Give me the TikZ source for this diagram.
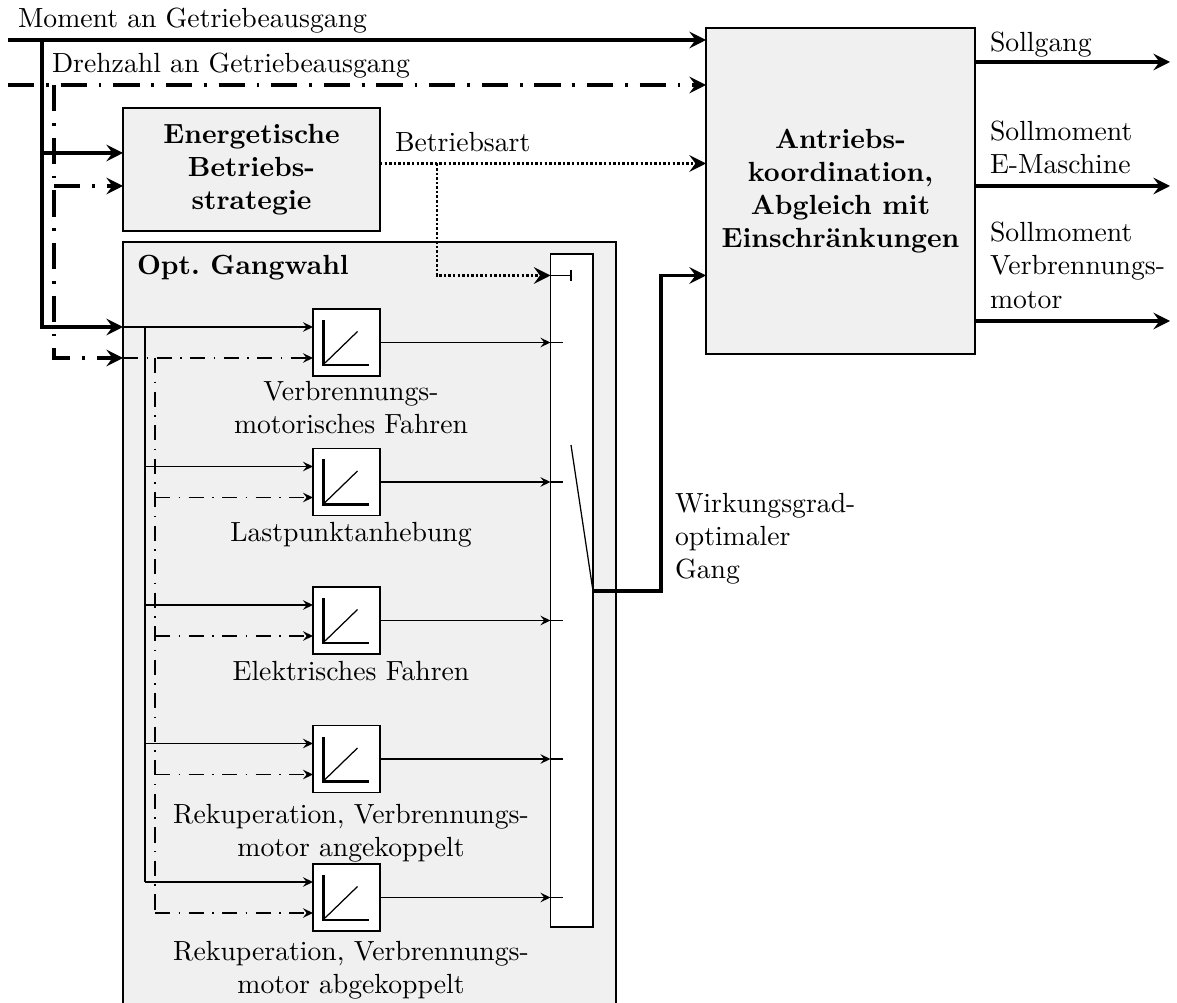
\documentclass[tikz,border=0pt]{standalone}
\usetikzlibrary{arrows.meta}
% one drawing unit
\def\pxu{0.361pt}
\begin{document}
\begin{tikzpicture}[x=0.361pt,y=-0.361pt,
  bigtip/.tip={Stealth[length=6pt,width=6pt,inset=2.2pt]},
  smalltip/.tip={Stealth[length=3.6pt,width=3.4pt,inset=1.3pt]},
  thickline/.style={line width=1.1pt},
  thinline/.style={line width=0.65pt},
  thickdash/.style={line width=1.1pt,dash pattern=on 9.5pt off 4.25pt on 1pt off 4.25pt},
  thindash/.style={line width=0.65pt,dash pattern=on 5.5pt off 3pt on 0.6pt off 3pt},
  dotline/.style={line width=0.9pt,dash pattern=on 0.9pt off 0.75pt},
  graybox/.style={draw,line width=0.6pt,fill=black!6,inner sep=0pt,outer sep=0pt,
    align=center,font=\bfseries},
  mapblk/.style={draw,line width=0.6pt,fill=white,inner sep=0pt,outer sep=0pt,
    minimum width=67*\pxu,minimum height=67*\pxu},
  lbl/.style={inner sep=0pt,outer sep=0pt},
]
\useasboundingbox (0,0) rectangle (1177,1003);

% containers and main blocks
\node[fill=black!6,inner sep=0pt,outer sep=0pt,minimum width=493*\pxu,minimum height=761*\pxu]
  (og) at (369.5,622.5) {};
\draw[line width=0.6pt] (og.south west) -- (og.north west) -- (og.north east) -- (og.south east);
\node[lbl,anchor=base west,font=\bfseries] (ogl) at (137,275) {Opt.\ Gangwahl};

\node[graybox,minimum width=257*\pxu,minimum height=123*\pxu] (es) at (251.5,169.5)
  {Energetische\\Betriebs-\\strategie};
\node[graybox,minimum width=269*\pxu,minimum height=326*\pxu] (ak) at (840.5,191)
  {Antriebs-\\koordination,\\Abgleich mit\\Einschränkungen};
\node[draw,line width=0.7pt,fill=white,inner sep=0pt,outer sep=0pt,
  minimum width=42.5*\pxu,minimum height=673*\pxu] (sw) at (571.75,590.5) {};

% trunk positions inside the selection block
\coordinate (tsol) at (145,0);
\coordinate (tdash) at (155,0);

% characteristic-map blocks
\foreach \i/\yc/\ss/\ds in {1/342.5/og.west/og.west,2/482/tsol/tdash,3/620.5/tsol/tdash,
                            4/759/tsol/tdash,5/897.5/tsol/tdash}{
  \node[mapblk] (b\i) at (346.5,\yc) {};
  \begin{scope}[shift={(b\i.center)}]
    \draw[line width=0.9pt] (-23,-22.5) -- (-23,22.5) -- (22.5,22.5);
    \draw[line width=0.45pt] (-21.5,20.5) -- (11,-11);
  \end{scope}
  \coordinate (s\i) at ([yshift=15.5*\pxu]b\i.west);
  \coordinate (d\i) at ([yshift=-15.5*\pxu]b\i.west);
  \draw[thinline,-{smalltip}] (s\i -| \ss) -- (s\i);
  \draw[thindash,-{smalltip}] (d\i -| \ds) -- (d\i);
  \draw[thinline,-{smalltip}] (b\i.east) -- (b\i.east -| sw.west);
  \draw[thinline] (b\i.east -| sw.west) -- ++(12,0);
}
\draw[thinline] (s1 -| tsol) -- (s5 -| tsol);
\draw[thindash] (d1 -| tdash) -- (d5 -| tdash);

% block captions
\node[lbl,anchor=north,align=center] (c1) at (351,381) {Verbrennungs-\\motorisches Fahren};
\node[lbl,anchor=base] (c2) at (351,542) {Lastpunktanhebung};
\node[lbl,anchor=base] (c3) at (351,680) {Elektrisches Fahren};
\node[lbl,anchor=north,align=center] (c4) at (351,804) {Rekuperation, Verbrennungs-\\motor angekoppelt};
\node[lbl,anchor=north,align=center] (c5) at (351,941) {Rekuperation, Verbrennungs-\\motor abgekoppelt};

% input signals
\coordinate (min) at (8,40);
\coordinate (mj) at (42,40);
\coordinate (din) at (8,85);
\coordinate (dj) at (54,85);
\node[lbl,anchor=base west] (mlab) at (18,28) {Moment an Getriebeausgang};
\node[lbl,anchor=base west] (dlab) at (52,73) {Drehzahl an Getriebeausgang};
\draw[thickline,-{bigtip}] (min) -- (min -| ak.west);
\draw[thickdash,-{bigtip}] (din) -- (din -| ak.west);
\coordinate (esm) at ([yshift=16.5*\pxu]es.west);
\coordinate (esd) at ([yshift=-16.5*\pxu]es.west);
\draw[thickline,-{bigtip}] (mj) |- (s1 -| og.west);
\draw[thickline,-{bigtip}] (esm -| mj) -- (esm);
\draw[thickdash,-{bigtip}] (dj) |- (d1 -| og.west);
\draw[thickdash,-{bigtip}] (esd -| dj) -- (esd);

% operating mode
\coordinate (ba) at ([yshift=6*\pxu]es.east);
\coordinate (bj) at (437,0);
\coordinate (selin) at (sw.west |- 0,275.5);
\node[lbl,anchor=base west] (balab) at (395,152) {Betriebsart};
\draw[dotline,-{bigtip}] (ba) -- (ba -| ak.west);
\draw[dotline,-{bigtip}] (ba -| bj) |- (selin);
\draw[line width=0.7pt,-{Bar[width=4.3pt]}] (selin) -- ++(21,0);

% selector blade and chosen gear
\coordinate (blade) at (571,445);
\coordinate (swout) at (sw.east |- 0,591);
\coordinate (gj) at (661,0);
\coordinate (akin) at (ak.west |- 0,275.5);
\draw[line width=0.45pt] (blade) -- (swout);
\draw[thickline,-{bigtip}] (swout) -| (gj |- akin) -- (akin);
\node[lbl,anchor=north west,align=left] (glab) at (675,493) {Wirkungsgrad-\\optimaler\\Gang};

% output signals
\coordinate (o1) at (1170,62);
\coordinate (o2) at (1170,186);
\coordinate (o3) at (1170,321);
\draw[thickline,-{bigtip}] (o1 -| ak.east) -- (o1);
\draw[thickline,-{bigtip}] (o2 -| ak.east) -- (o2);
\draw[thickline,-{bigtip}] (o3 -| ak.east) -- (o3);
\node[lbl,anchor=base west] (l1) at (990,52) {Sollgang};
\node[lbl,anchor=north west,align=left] (l2) at (990,121) {Sollmoment\\E-Maschine};
\node[lbl,anchor=north west,align=left] (l3) at (990,222) {Sollmoment\\Verbrennungs-\\motor};
\end{tikzpicture}
\end{document}
